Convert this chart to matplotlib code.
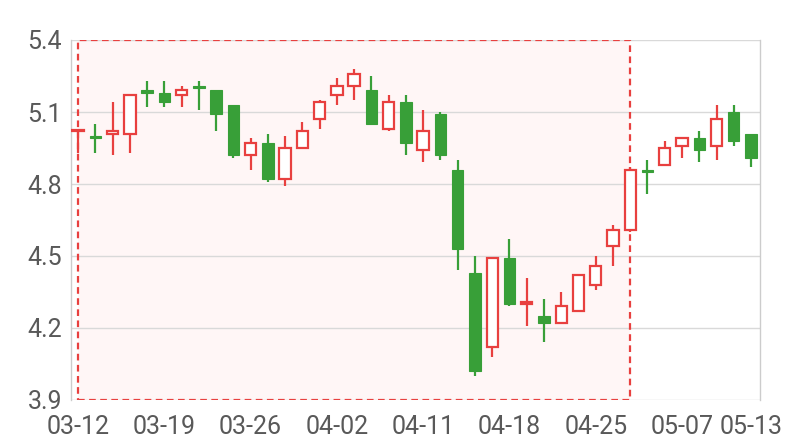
import matplotlib
matplotlib.use("Agg")
import matplotlib.pyplot as plt
from matplotlib.patches import Rectangle

# daily candles, values
dates = ["03-12", "03-13", "03-14", "03-15", "03-16", "03-19", "03-20", "03-21", "03-22", "03-23",
         "03-26", "03-27", "03-28", "03-29", "03-30", "04-02", "04-03", "04-04", "04-09", "04-10",
         "04-11", "04-12", "04-13", "04-16", "04-17", "04-18", "04-19", "04-20", "04-23", "04-24",
         "04-25", "04-26", "04-27", "05-02", "05-03", "05-07", "05-08", "05-09", "05-10", "05-13"]
opens = [5.02, 5.00, 5.01, 5.01, 5.19, 5.18, 5.17, 5.21, 5.19, 5.13,
         4.92, 4.97, 4.82, 4.95, 5.07, 5.17, 5.21, 5.19, 5.03, 5.14,
         4.94, 5.09, 4.86, 4.43, 4.12, 4.49, 4.30, 4.25, 4.22, 4.27,
         4.38, 4.54, 4.61, 4.86, 4.88, 4.96, 4.99, 4.96, 5.10, 5.01]
closes = [5.02, 4.99, 5.02, 5.17, 5.18, 5.14, 5.19, 5.20, 5.09, 4.92,
          4.97, 4.82, 4.95, 5.02, 5.14, 5.21, 5.26, 5.05, 5.14, 4.97,
          5.02, 4.92, 4.53, 4.02, 4.49, 4.30, 4.31, 4.22, 4.29, 4.42,
          4.46, 4.61, 4.86, 4.85, 4.95, 4.99, 4.94, 5.07, 4.98, 4.91]
lows = [4.93, 4.93, 4.92, 4.93, 5.12, 5.12, 5.12, 5.11, 5.02, 4.91,
        4.86, 4.81, 4.79, 4.95, 5.03, 5.13, 5.15, 5.05, 5.02, 4.92,
        4.89, 4.90, 4.44, 4.00, 4.08, 4.29, 4.21, 4.14, 4.22, 4.27,
        4.36, 4.46, 4.60, 4.76, 4.88, 4.91, 4.89, 4.90, 4.96, 4.87]
highs = [5.03, 5.05, 5.14, 5.17, 5.23, 5.23, 5.21, 5.23, 5.19, 5.13,
         4.99, 5.01, 5.00, 5.06, 5.15, 5.24, 5.28, 5.25, 5.17, 5.17,
         5.11, 5.10, 4.90, 4.50, 4.49, 4.57, 4.41, 4.32, 4.35, 4.42,
         4.50, 4.63, 4.87, 4.90, 4.98, 4.99, 5.02, 5.13, 5.13, 5.01]

# highlighted range (index of first and last candle)
area_start, area_end = 0, 32

y_ticks = [3.9, 4.2, 4.5, 4.8, 5.1, 5.4]
label_idx = [0, 5, 10, 15, 20, 25, 30, 35, 39]

up_color = "#e8403f"
down_color = "#389f38"
grid_color = "#d9d9d9"
text_color = "#595959"

plt.rcParams["font.family"] = ["Roboto", "DejaVu Sans"]

fig = plt.figure(figsize=(8, 4.4), dpi=100)
ax = fig.add_axes([71 / 800, 40 / 440, 689 / 800, 360 / 440])

# mark area: fill under the grid, dashed border on top
area_w = area_end - area_start
area_h = y_ticks[-1] - y_ticks[0]
ax.add_patch(Rectangle((area_start, y_ticks[0]), area_w, area_h,
                       facecolor="#fff6f6", edgecolor="none", zorder=0.2))
ax.add_patch(Rectangle((area_start, y_ticks[0]), area_w, area_h,
                       facecolor="none", edgecolor=up_color, linewidth=1.6,
                       linestyle=(0, (3, 2)), zorder=1.5))

x = list(range(len(dates)))
width = 0.66
for i in x:
    o, c, lo, hi = opens[i], closes[i], lows[i], highs[i]
    up = c >= o
    col = up_color if up else down_color
    ax.vlines(i, lo, hi, color=col, linewidth=1.6, zorder=2)
    h = abs(c - o)
    if h < 0.006:
        h = 0.006
    bottom = min(o, c)
    if up:
        ax.bar(i, h, width=width, bottom=bottom, facecolor="white", edgecolor=col,
               linewidth=1.6, zorder=3)
    else:
        ax.bar(i, h, width=width, bottom=bottom, facecolor=col, edgecolor=col,
               linewidth=0.8, zorder=3)

ax.set_xlim(-0.41, 39.52)
ax.set_ylim(3.9, 5.4)
ax.set_yticks(y_ticks)
ax.set_yticklabels([f"{v:.1f}" for v in y_ticks])
ax.set_xticks(label_idx)
ax.set_xticklabels([dates[i] for i in label_idx])
ax.tick_params(length=0, labelsize=18, colors=text_color)
ax.tick_params(axis="x", pad=11)
ax.tick_params(axis="y", pad=6.5)
ax.grid(axis="y", color=grid_color, linewidth=1, zorder=0.5)
ax.set_axisbelow(True)
for s in ["top", "bottom"]:
    ax.spines[s].set_visible(False)
for s in ["left", "right"]:
    ax.spines[s].set_color("#cccccc")
    ax.spines[s].set_linewidth(1)

fig.savefig("out.png", dpi=100)
